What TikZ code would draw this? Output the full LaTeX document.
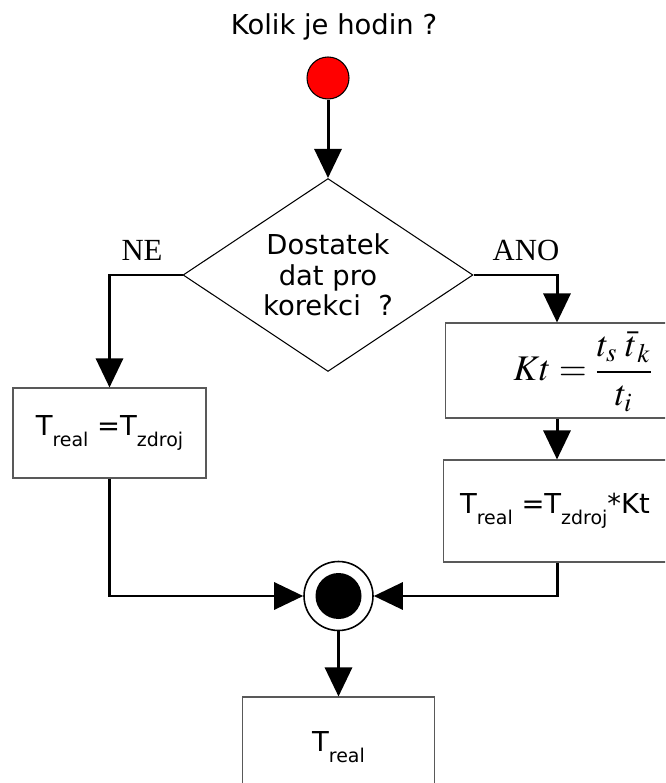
\documentclass[tikz,border=0pt]{standalone}
\usepackage{mathptmx}
\usepackage{fontspec}
\setmainfont{Liberation Serif}
\newfontfamily\dejavu{DejaVu Sans}
\usetikzlibrary{arrows.meta,shapes.geometric}
\newcommand\lowidx[1]{\raisebox{-0.42em}{\fontsize{10.8}{11}\selectfont #1}}

\begin{document}
\begin{tikzpicture}[x=0.02cm,y=-0.02cm,
  flow/.style={line width=1.7pt,-{Triangle[width=0.54cm,length=0.58cm]}},
  box/.style={draw=black!65,line width=0.6pt,inner sep=0pt,font=\dejavu\fontsize{15.6}{17.5}\selectfont},
  sans/.style={font=\dejavu\fontsize{15.6}{17.5}\selectfont},
  serif/.style={font=\fontsize{17.5}{20}\selectfont}]
  \clip (0,0) rectangle (665,783);
  % 标题与起点
  \node[sans] (title) at (334,27) {Kolik je hodin ?};
  \node[circle,draw,line width=0.6pt,fill=red,minimum size=0.84cm,inner sep=0pt] (start) at (328,78) {};
  % 判断
  \node[diamond,draw,line width=0.6pt,aspect=1.5,minimum width=5.8cm,minimum height=3.86cm,inner sep=0pt,align=center,sans] (check) at (328,275) {Dostatek\\dat pro\\korekci~~?};
  \node[serif] (noLbl) at (142,250) {NE};
  \node[serif] (yesLbl) at (526,250) {ANO};
  % 左分支
  \node[box,minimum width=3.86cm,minimum height=1.8cm] (real1) at (109.5,433) {T\lowidx{real} =T\lowidx{zdroj}};
  % 右分支
  \coordinate (colR) at (557,275);
  \node[box,minimum width=5.52cm,minimum height=1.9cm,text height=26pt,text depth=14.1pt] (ktbox) at (583,370.5) {\fontsize{20.5}{24}\selectfont$\displaystyle Kt=\frac{t_s\;\bar{t}_{\,k}}{t_i}$};
  \node[box,minimum width=4.48cm,minimum height=2.04cm] (real2) at (555,511) {T\lowidx{real} =T\lowidx{zdroj}*Kt};
  % 汇合与结果
  \node[circle,draw,line width=0.9pt,minimum size=1.38cm,inner sep=0pt] (merge) at (338.5,596) {};
  \node[circle,fill=black,minimum size=0.92cm,inner sep=0pt] (mergeDot) at (merge) {};
  \node[box,minimum width=3.84cm,minimum height=2cm] (result) at (338.5,747) {T\lowidx{real}};
  % 连线
  \draw[flow] (start.south) -- (check.north);
  \draw[flow] (check.west) -| (real1.north);
  \draw[flow] (check.east) -| (ktbox.north -| colR);
  \draw[flow] (ktbox.south -| colR) -- (real2.north -| colR);
  \draw[flow] (real1.south) |- (merge.west);
  \draw[flow] (real2.south -| colR) |- (merge.east);
  \draw[flow] (merge.south) -- (result.north);
\end{tikzpicture}
\end{document}
